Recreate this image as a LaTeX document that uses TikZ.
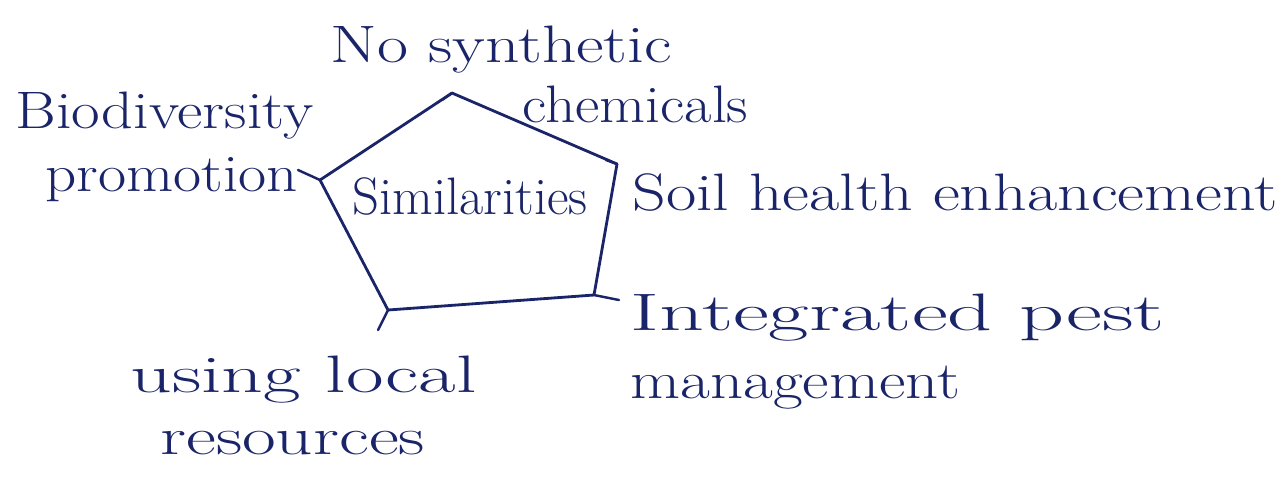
\documentclass[tikz,border=0pt]{standalone}
\usepackage{fontspec}
\usepackage{graphicx}
\setmainfont{Latin Modern Roman}
\definecolor{ink}{HTML}{1A2468}
\tikzset{
  lbl/.style={text=ink, font=\fontsize{30}{36}\selectfont, inner sep=0pt, anchor=west},
  edge/.style={draw=ink, line width=1.6pt, line join=round, line cap=round},
  stub/.style={draw=ink, line width=1.4pt, line cap=round}
}
\newcommand{\wide}[2]{\scalebox{#1}[1]{#2}}
\begin{document}
\begin{tikzpicture}[x=0.02cm, y=-0.02cm]
\useasboundingbox (0,0) rectangle (1287,495);
% pentagon vertices
\coordinate (vt) at (452,93);
\coordinate (vr) at (617,164);
\coordinate (vlr) at (594,295);
\coordinate (vll) at (388,310);
\coordinate (vl) at (320,180);
\draw[edge] (vt) -- (vr) -- (vlr) -- (vll) -- (vl) -- cycle;
% small stubs at vertices
\coordinate (st) at (442,100);
\coordinate (sr) at (606,160);
\coordinate (slr) at (619,300);
\coordinate (sll) at (378,330);
\coordinate (sl) at (298,170);
\draw[stub] (vt) -- (st);
\draw[stub] (vr) -- (sr);
\draw[stub] (vlr) -- (slr);
\draw[stub] (vll) -- (sll);
\draw[stub] (vl) -- (sl);
% labels
\node[lbl, anchor=center] (center) at (470,196) {Similarities};
\node[lbl] (top1) at (330,50) {\wide{1.28}{No synthetic}};
\node[lbl] (top2) at (522,104) {\wide{1.13}{chemicals}};
\node[lbl] (left1) at (15,116) {\wide{1.18}{Biodiversity}};
\node[lbl] (left2) at (45,180) {\wide{1.16}{promotion}};
\node[lbl] (right) at (632,192) {\wide{1.25}{Soil health enhancement}};
\node[lbl] (lr1) at (630,318) {\wide{1.67}{Integrated pest}};
\node[lbl] (lr2) at (630,388) {\wide{1.23}{management}};
\node[lbl] (ll1) at (130,380) {\wide{1.55}{using local}};
\node[lbl] (ll2) at (160,443) {\wide{1.39}{resources}};
\end{tikzpicture}
\end{document}
